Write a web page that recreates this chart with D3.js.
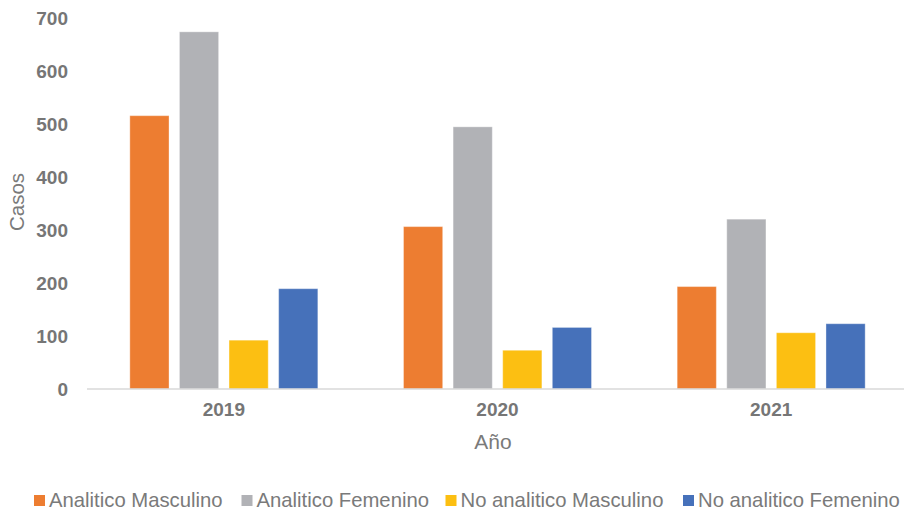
<!DOCTYPE html>
<html>
<head>
<meta charset="utf-8">
<script src="https://cdn.jsdelivr.net/npm/d3@7"></script>
<style>
  body { margin: 0; background: #fff; overflow: hidden; }
  svg { display: block; }
  text { font-family: "Liberation Sans", Arial, sans-serif; }
</style>
</head>
<body>
<div id="vis"></div>
<script>
// data
var years = ["2019", "2020", "2021"];
var series = ["Analitico Masculino", "Analitico Femenino", "No analitico Masculino", "No analitico Femenino"];
var analiticoMasculino = [515, 306, 193];
var analiticoFemenino = [673, 494, 320];
var noAnaliticoMasculino = [92, 73, 106];
var noAnaliticoFemenino = [189, 116, 123];
var yTicks = [0, 100, 200, 300, 400, 500, 600, 700];
var colorList = ["#ed7d31", "#b1b2b6", "#fcbf12", "#4671ba"];

var values = [analiticoMasculino, analiticoFemenino, noAnaliticoMasculino, noAnaliticoFemenino];

var w = 904, h = 512;

let svg = d3.select("#vis")
            .append("svg")
            .attr("width", w)
            .attr("height", h);

var x0 = d3.scaleBand()
           .domain(years)
           .range([87, 908])
           .padding(0);

var bw = x0.bandwidth();
var cluster = 188;
var x1 = d3.scaleBand()
           .domain(series)
           .range([(bw - cluster) / 2, (bw + cluster) / 2])
           .paddingInner(0.21);

var y = d3.scaleLinear()
          .domain([0, 700])
          .range([389, 17.5]);

var colors = d3.scaleOrdinal()
               .domain(series)
               .range(colorList);

// y tick labels (no axis line)
var yAxis = svg.append("g")
    .attr("transform", "translate(72,0)")
    .call(d3.axisLeft(y).tickValues(yTicks).tickSize(0).tickPadding(4));
yAxis.select(".domain").remove();
yAxis.selectAll("text")
     .attr("fill", "#767676")
     .style("font-size", "19px")
     .style("font-weight", "bold")
     .attr("dy", "0.35em");

// bars
var groups = svg.append("g")
    .selectAll("g")
    .data(years)
    .enter()
    .append("g")
    .attr("transform", d => `translate(${x0(d)},0)`);

groups.selectAll("rect")
    .data((d, i) => series.map((s, j) => ({s: s, v: values[j][i]})))
    .enter()
    .append("rect")
    .attr("x", d => x1(d.s))
    .attr("y", d => y(d.v))
    .attr("width", x1.bandwidth())
    .attr("height", d => y(0) - y(d.v))
    .attr("fill", d => colors(d.s))
    .attr("stroke", "#fff")
    .attr("stroke-opacity", 0.35)
    .attr("stroke-width", 1);

// category axis
var xAxis = svg.append("g")
    .attr("transform", `translate(0,${y(0)})`)
    .call(d3.axisBottom(x0).tickSize(0).tickPadding(14));
xAxis.select(".domain")
     .attr("stroke", "#d9d9d9")
     .attr("stroke-width", 1.5)
     .attr("d", `M87,0H904`);
xAxis.selectAll("text")
     .attr("fill", "#767676")
     .style("font-size", "19px")
     .style("font-weight", "bold");

// axis titles
svg.append("text")
   .attr("x", 493)
   .attr("y", 449)
   .attr("text-anchor", "middle")
   .attr("fill", "#7a7a7a")
   .style("font-size", "21px")
   .text("Año");

svg.append("text")
   .attr("transform", "translate(23.5,202) rotate(-90)")
   .attr("text-anchor", "middle")
   .attr("fill", "#7a7a7a")
   .style("font-size", "20.5px")
   .text("Casos");

// legend
var legendX = [34, 241.5, 445.5, 683];
var legend = svg.append("g")
    .selectAll("g")
    .data(series)
    .enter()
    .append("g")
    .attr("transform", (d, i) => `translate(${legendX[i]},0)`);

legend.append("rect")
    .attr("x", 0)
    .attr("y", 495)
    .attr("width", 11)
    .attr("height", 11)
    .attr("fill", d => colors(d));

legend.append("text")
    .attr("x", 15)
    .attr("y", 507)
    .attr("fill", "#7a7a7a")
    .style("font-size", "20.3px")
    .text(d => d);
</script>
</body>
</html>
